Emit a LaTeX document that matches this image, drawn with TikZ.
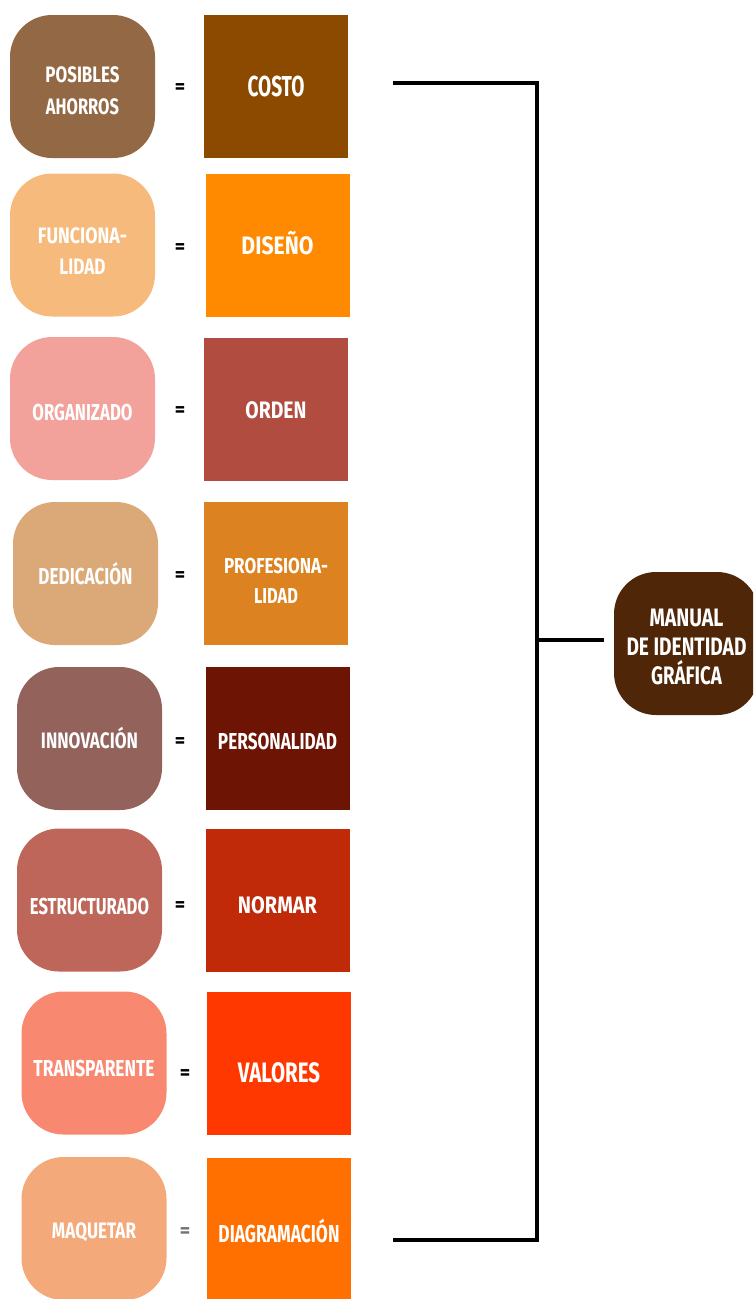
\documentclass[tikz,border=0pt]{standalone}
\usepackage{fontspec}
\usepackage{graphicx}
\newfontfamily\cond{Fira Sans}
\newcommand{\fit}[3]{\resizebox{#1pt}{#2pt}{\raisebox{0pt}[\fontcharht\font`H][0pt]{#3}}}
\definecolor{la}{HTML}{936844}\definecolor{sa}{HTML}{8B4A00}
\definecolor{lb}{HTML}{F6BA7C}\definecolor{sb}{HTML}{FF8A00}
\definecolor{lc}{HTML}{F2A29A}\definecolor{sc}{HTML}{B04C40}
\definecolor{ld}{HTML}{DBA877}\definecolor{sd}{HTML}{DC8220}
\definecolor{le}{HTML}{93625B}\definecolor{se}{HTML}{6E1404}
\definecolor{lf}{HTML}{BE665A}\definecolor{sf}{HTML}{C02A08}
\definecolor{lg}{HTML}{F88870}\definecolor{sg}{HTML}{FF3800}
\definecolor{lh}{HTML}{F4A97A}\definecolor{sh}{HTML}{FF7000}
\definecolor{mn}{HTML}{4F2607}
\tikzset{
  lbl/.style={rounded corners=42pt, minimum width=145pt, minimum height=143pt, inner sep=0pt},
  sqr/.style={minimum width=144pt, minimum height=143pt, inner sep=0pt},
  tx/.style={text=white, inner sep=0pt, align=center, font={\cond\bfseries\fontsize{10}{#1}\selectfont}},
  tx/.default=31,
  eqs/.style={font={\cond\bfseries\fontsize{20}{20}\selectfont}, text=black, inner sep=0pt},
  link/.style={line width=4pt, line join=miter, line cap=butt}
}
\begin{document}
\begin{tikzpicture}[x=1pt,y=1pt]
\path[use as bounding box] (0,0) rectangle (753,-1299);
\clip (0,0) rectangle (753,-1299);
% row 1
\node[lbl, fill=la] (l1) at (82.5,-86.5) {};
\node[tx=32, yshift=-4pt] (l1t) at (l1) {\fit{74}{15.5}{POSIBLES}\\\fit{73}{15.5}{AHORROS}};
\node[eqs] (e1) at (180,-88.7) {=};
\node[sqr, fill=sa] (s1) at (276,-86.5) {};
\node[tx] (s1t) at (s1) {\fit{57}{20}{COSTO}};
% row 2
\node[lbl, fill=lb] (l2) at (82.5,-245) {};
\node[tx=30.5, yshift=-6pt] (l2t) at (l2) {\fit{89}{15.5}{FUNCIONA-}\\\fit{46}{15.5}{LIDAD}};
\node[eqs] (e2) at (180,-248.7) {=};
\node[sqr, fill=sb] (s2) at (277.5,-245) {};
\node[tx, yshift=-1pt] (s2t) at (s2) {\fit{72}{17.5}{DISEÑO}};
% row 3
\node[lbl, fill=lc] (l3) at (82.5,-408.5) {};
\node[tx, yshift=-4pt] (l3t) at (l3) {\fit{100}{16}{ORGANIZADO}};
\node[eqs] (e3) at (180,-411.7) {=};
\node[sqr, fill=sc] (s3) at (276,-409) {};
\node[tx, yshift=-1pt] (s3t) at (s3) {\fit{61}{16.5}{ORDEN}};
% row 4
\node[lbl, fill=ld] (l4) at (85.5,-573.5) {};
\node[tx, yshift=-3pt] (l4t) at (l4) {\fit{94}{16}{DEDICACIÓN}};
\node[eqs] (e4) at (180,-576.7) {=};
\node[sqr, fill=sd] (s4) at (276,-573.5) {};
\node[tx=30.5, yshift=-7.5pt] (s4t) at (s4) {\fit{104}{15}{PROFESIONA-}\\\fit{44}{15}{LIDAD}};
% row 5
\node[lbl, fill=le] (l5) at (89.5,-738.5) {};
\node[tx, yshift=-2.5pt] (l5t) at (l5) {\fit{97}{15.5}{INNOVACIÓN}};
\node[eqs] (e5) at (180,-742.7) {=};
\node[sqr, fill=se] (s5) at (277.5,-738) {};
\node[tx, yshift=-3.5pt] (s5t) at (s5) {\fit{119}{16}{PERSONALIDAD}};
% row 6
\node[lbl, fill=lf] (l6) at (89.5,-900) {};
\node[tx, yshift=-6.5pt] (l6t) at (l6) {\fit{119}{16}{ESTRUCTURADO}};
\node[eqs] (e6) at (180,-906.7) {=};
\node[sqr, fill=sf] (s6) at (277.5,-900) {};
\node[tx, yshift=-5.5pt] (s6t) at (s6) {\fit{79}{16.5}{NORMAR}};
% row 7
\node[lbl, fill=lg] (l7) at (94,-1063) {};
\node[tx, yshift=-5.5pt] (l7t) at (l7) {\fit{121}{16}{TRANSPARENTE}};
\node[eqs] (e7) at (185,-1074.7) {=};
\node[sqr, fill=sg] (s7) at (279,-1063) {};
\node[tx, yshift=-10pt] (s7t) at (s7) {\fit{82}{19.5}{VALORES}};
% row 8
\node[lbl, fill=lh] (l8) at (94,-1228.5) {};
\node[tx, yshift=-2.5pt] (l8t) at (l8) {\fit{84}{15.5}{MAQUETAR}};
\node[eqs, text=black!55] (e8) at (185,-1232.7) {=};
\node[sqr, fill=sh] (s8) at (279,-1229) {};
\node[tx, yshift=-5pt] (s8t) at (s8) {\fit{121}{17}{DIAGRAMACIÓN}};
% manual
\node[lbl, fill=mn] (man) at (686.5,-643.5) {};
\node[tx=29, yshift=-3pt] (mant) at (man) {\fit{74}{17.5}{MANUAL}\\\fit{120}{17.5}{DE IDENTIDAD}\\\fit{71}{17.5}{GRÁFICA}};
% bracket
\coordinate (ta) at (393,-83);
\coordinate (ca) at (537,-83);
\coordinate (tb) at (393,-1240);
\coordinate (cb) at (537,-1240);
\coordinate (mw) at ([xshift=-10pt,yshift=3.5pt]man.west);
\coordinate (cm) at (ca |- mw);
\draw[link] (ta) -- (ca) -- (cb) -- (tb);
\draw[link] (cm) -- (mw);
\end{tikzpicture}
\end{document}
